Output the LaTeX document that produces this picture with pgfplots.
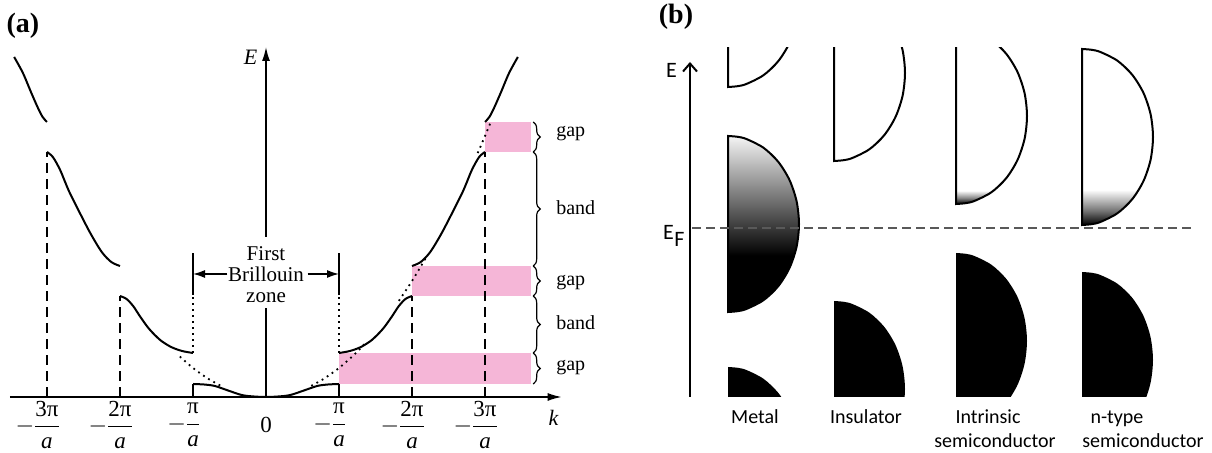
\documentclass[border=0pt]{standalone}
\usepackage{fontspec}
\setmainfont{Liberation Serif}
\newfontfamily\calfont{Carlito}
\usepackage{pgfplots}
\pgfplotsset{compat=1.18}
\usetikzlibrary{arrows.meta,decorations.pathreplacing}
\definecolor{gappink}{RGB}{245,182,215}
% vertical fills for the partly occupied bands
\pgfdeclareverticalshading{metalgrad}{100bp}{color(0bp)=(black); color(41bp)=(black); color(58bp)=(black!52); color(75bp)=(black!4); color(100bp)=(black!4)}
\pgfdeclareverticalshading{intrgrad}{100bp}{color(0bp)=(black); color(25bp)=(black); color(26.8bp)=(black!45); color(28.8bp)=(white); color(100bp)=(white)}
\pgfdeclareverticalshading{ntypegrad}{100bp}{color(0bp)=(black); color(25bp)=(black); color(29bp)=(black!55); color(35bp)=(white); color(100bp)=(white)}
\tikzset{
  curve/.style={line width=1pt, smooth},
  dashln/.style={line width=0.8pt, dash pattern=on 5pt off 3pt},
  dotln/.style={line width=0.9pt, dash pattern=on 0.9pt off 2.1pt},
  bndry/.style={line width=0.75pt},
}
% tick label -n pi / a
\newcommand\kfrac[1]{{\fontsize{11.5}{11.5}\selectfont\llap{$-$\kern-0.6pt}$\displaystyle\frac{\mbox{#1π}}{\mbox{\itshape a}}$}}
\begin{document}
\begin{tikzpicture}
\useasboundingbox (0,0) rectangle (606pt,226.5pt);
% ---------------- (a) extended-zone E(k) ----------------
\begin{axis}[at={(0pt,0pt)}, anchor=south west, width=300pt, height=226.5pt,
  scale only axis, hide axis, clip=false,
  xmin=-3.6438, xmax=4.5753, ymin=-56, ymax=397]
% energy gaps
\addplot[fill=gappink, draw=none] coordinates {(1,13) (3.63,13) (3.63,44) (1,44)} -- cycle;
\addplot[fill=gappink, draw=none] coordinates {(2,101) (3.63,101) (3.63,131) (2,131)} -- cycle;
\addplot[fill=gappink, draw=none] coordinates {(3,245) (3.63,245) (3.63,275) (3,275)} -- cycle;
% axes
\draw[line width=0.75pt, -{Latex[length=7pt,width=4pt]}] (axis cs:-3.51,0) -- (axis cs:4.05,0);
\draw[line width=0.75pt] (axis cs:0,0) -- (axis cs:0,89);
\draw[line width=0.75pt, -{Latex[length=7pt,width=4pt]}] (axis cs:0,160) -- (axis cs:0,350);
% zone edges
\addplot[dashln] coordinates {(-3,0) (-3,245)};
\addplot[dashln] coordinates {(-2,0) (-2,101)};
\addplot[dashln] coordinates {(2,0) (2,101)};
\addplot[dashln] coordinates {(3,0) (3,245)};
\addplot[bndry] coordinates {(-1,102) (-1,144)};
\addplot[dotln] coordinates {(-1,44) (-1,102)};
\addplot[bndry] coordinates {(-1,0) (-1,13)};
\addplot[bndry] coordinates {(1,102) (1,144)};
\addplot[dotln] coordinates {(1,44) (1,102)};
\addplot[bndry] coordinates {(1,0) (1,13)};
% free-electron parabola near the gaps
\addplot[dotln, smooth] coordinates {(-1.18,40.4) (-1,29) (-0.8,18.6) (-0.6,10.4)};
\addplot[dotln, smooth] coordinates {(0.62,11.1) (0.8,18.6) (1,29) (1.2,41.8) (1.38,55.2)};
\addplot[dotln, smooth] coordinates {(1.82,96.1) (2,116) (2.2,140.4)};
\addplot[dotln, smooth] coordinates {(2.9,243.9) (3,261) (3.08,275.1)};
% bands
\addplot[curve] coordinates {(-1,13) (-0.85,12.5) (-0.7,11) (-0.5,6) (-0.3,1.5) (0,0) (0.3,1.5) (0.5,6) (0.7,11) (0.85,12.5) (1,13)};
\addplot[curve] coordinates {(1,44) (1.15,46) (1.3,50) (1.45,57) (1.6,68) (1.72,80) (1.82,91) (1.91,98) (2,101)};
\addplot[curve] coordinates {(-1,44) (-1.15,46) (-1.3,50) (-1.45,57) (-1.6,68) (-1.72,80) (-1.82,91) (-1.91,98) (-2,101)};
\addplot[curve] coordinates {(2,131) (2.12,135) (2.25,145) (2.4,163) (2.55,184) (2.7,206) (2.82,227) (2.92,240) (3,245)};
\addplot[curve] coordinates {(-2,131) (-2.12,135) (-2.25,145) (-2.4,163) (-2.55,184) (-2.7,206) (-2.82,227) (-2.92,240) (-3,245)};
\addplot[curve] coordinates {(3,275) (3.06,280) (3.13,290) (3.22,305) (3.33,324) (3.45,340)};
\addplot[curve] coordinates {(-3,275) (-3.06,280) (-3.13,290) (-3.22,305) (-3.33,324) (-3.45,340)};
% braces
\draw[decorate, decoration={brace, amplitude=3.5pt}, line width=0.6pt] (axis cs:3.66,275) -- (axis cs:3.66,245);
\draw[decorate, decoration={brace, amplitude=3.5pt}, line width=0.6pt] (axis cs:3.66,245) -- (axis cs:3.66,131);
\draw[decorate, decoration={brace, amplitude=3.5pt}, line width=0.6pt] (axis cs:3.66,131) -- (axis cs:3.66,101);
\draw[decorate, decoration={brace, amplitude=3.5pt}, line width=0.6pt] (axis cs:3.66,101) -- (axis cs:3.66,44);
\draw[decorate, decoration={brace, amplitude=3.5pt}, line width=0.6pt] (axis cs:3.66,44) -- (axis cs:3.66,13);
\node[anchor=base west] at (axis cs:3.88,260) {gap};
\node[anchor=base west] at (axis cs:3.88,182) {band};
\node[anchor=base west] at (axis cs:3.88,111) {gap};
\node[anchor=base west] at (axis cs:3.88,67) {band};
\node[anchor=base west] at (axis cs:3.88,26) {gap};
% zone label
\node[align=center, font=\fontsize{10.5}{10.5}\selectfont] at (axis cs:0,122) {First\\Brillouin\\zone};
\draw[line width=0.75pt, -{Latex[length=6pt,width=4pt]}] (axis cs:-0.53,123) -- (axis cs:-1,123);
\draw[line width=0.75pt, -{Latex[length=6pt,width=4pt]}] (axis cs:0.57,123) -- (axis cs:1,123);
% tick labels
\node at (axis cs:-3,-28) {\kfrac{3}};
\node at (axis cs:-2,-28) {\kfrac{2}};
\node at (axis cs:-1,-28) {\kfrac{}};
\node[font=\fontsize{11.5}{11.5}\selectfont] at (axis cs:0,-28) {0};
\node at (axis cs:1,-28) {\kfrac{}};
\node at (axis cs:2,-28) {\kfrac{2}};
\node at (axis cs:3,-28) {\kfrac{3}};
\node[font=\fontsize{11}{11}\selectfont] at (axis cs:3.94,-21) {\itshape k};
\node[font=\fontsize{11}{11}\selectfont] at (axis cs:-0.21,340) {\itshape E};
\node[font=\bfseries\fontsize{14}{14}\selectfont] at (axis cs:-3.33,371) {(a)};
\end{axis}
% ---------------- (b) band filling ----------------
\begin{axis}[at={(300pt,28pt)}, anchor=south west, width=306pt, height=174.5pt,
  scale only axis, hide axis, clip mode=individual,
  xmin=-90, xmax=522, ymin=0, ymax=349, font=\calfont]
% metal
\addplot[draw=black, line width=1pt, smooth] coordinates {(38,310) (47.27,310.76) (56.38,313) (73.5,321.79) (88.2,335.77) (99.49,354) (106.58,375.22) (109,398) (106.58,420.78) (99.49,442) (88.2,460.23) (73.5,474.21) (56.38,483) (47.27,485.24) (38,486)} -- cycle;
\addplot[draw=black, line width=1pt, smooth, shade, shading=metalgrad] coordinates {(38,85) (47.27,85.76) (56.38,88) (73.5,96.79) (88.2,110.77) (99.49,129) (106.58,150.22) (109,173) (106.58,195.78) (99.49,217) (88.2,235.23) (73.5,249.21) (56.38,258) (47.27,260.24) (38,261)} -- cycle;
\addplot[fill=black, draw=none, smooth] coordinates {(38,-146) (47.27,-145.24) (56.38,-143) (73.5,-134.21) (88.2,-120.23) (99.49,-102) (106.58,-80.78) (109,-58) (106.58,-35.22) (99.49,-14) (88.2,4.23) (73.5,18.21) (56.38,27) (47.27,29.24) (38,30)} -- cycle;
% insulator
\addplot[draw=black, line width=1pt, smooth] coordinates {(144,236) (153.27,236.76) (162.38,239) (179.5,247.79) (194.2,261.77) (205.49,280) (212.58,301.22) (215,324) (212.58,346.78) (205.49,368) (194.2,386.23) (179.5,400.21) (162.38,409) (153.27,411.24) (144,412)} -- cycle;
\addplot[fill=black, draw=none, smooth] coordinates {(144,-80) (153.27,-79.24) (162.38,-77) (179.5,-68.21) (194.2,-54.23) (205.49,-36) (212.58,-14.78) (215,8) (212.58,30.78) (205.49,52) (194.2,70.23) (179.5,84.21) (162.38,93) (153.27,95.24) (144,96)} -- cycle;
% intrinsic semiconductor
\addplot[draw=black, line width=1pt, smooth, shade, shading=intrgrad] coordinates {(266,193) (275.27,193.76) (284.38,196) (301.5,204.79) (316.2,218.77) (327.49,237) (334.58,258.22) (337,281) (334.58,303.78) (327.49,325) (316.2,343.23) (301.5,357.21) (284.38,366) (275.27,368.24) (266,369)} -- cycle;
\addplot[fill=black, draw=none, smooth] coordinates {(266,-32) (275.27,-31.24) (284.38,-29) (301.5,-20.21) (316.2,-6.23) (327.49,12) (334.58,33.22) (337,56) (334.58,78.78) (327.49,100) (316.2,118.23) (301.5,132.21) (284.38,141) (275.27,143.24) (266,144)} -- cycle;
% n-type semiconductor
\addplot[draw=black, line width=1pt, smooth, shade, shading=ntypegrad] coordinates {(392,172) (401.27,172.76) (410.38,175) (427.5,183.79) (442.2,197.77) (453.49,216) (460.58,237.22) (463,260) (460.58,282.78) (453.49,304) (442.2,322.23) (427.5,336.21) (410.38,345) (401.27,347.24) (392,348)} -- cycle;
\addplot[fill=black, draw=none, smooth] coordinates {(392,-51) (401.27,-50.24) (410.38,-48) (427.5,-39.21) (442.2,-25.23) (453.49,-7) (460.58,14.22) (463,37) (460.58,59.78) (453.49,81) (442.2,99.23) (427.5,113.21) (410.38,122) (401.27,124.24) (392,125)} -- cycle;
% energy axis and Fermi level
\draw[line width=1pt, -{Straight Barb[length=4pt,width=7pt]}] (axis cs:0,0) -- (axis cs:0,335);
\draw[black!65, line width=1pt, dash pattern=on 4.5pt off 2.5pt] (axis cs:2,169) -- (axis cs:505,169);
\node[anchor=base west, font=\calfont\fontsize{11}{11}\selectfont] at (axis cs:-31,319) {E};
\node[anchor=base west, font=\calfont\fontsize{11}{11}\selectfont] at (axis cs:-34,157) {E\kern0.3pt\raisebox{-3.2pt}{F}};
\node[font=\bfseries\rmfamily\fontsize{14}{14}\selectfont] at (axis cs:-14,380) {(b)};
\node[anchor=base] at (axis cs:65,-26.5) {Metal};
\node[anchor=base] at (axis cs:176,-26.5) {Insulator};
\node[anchor=base] at (axis cs:298,-26.5) {Intrinsic};
\node[anchor=base] at (axis cs:305,-50.5) {semiconductor};
\node[anchor=base] at (axis cs:427,-26.5) {n-type};
\node[anchor=base] at (axis cs:453,-50.5) {semiconductor};
\end{axis}
\end{tikzpicture}
\end{document}
